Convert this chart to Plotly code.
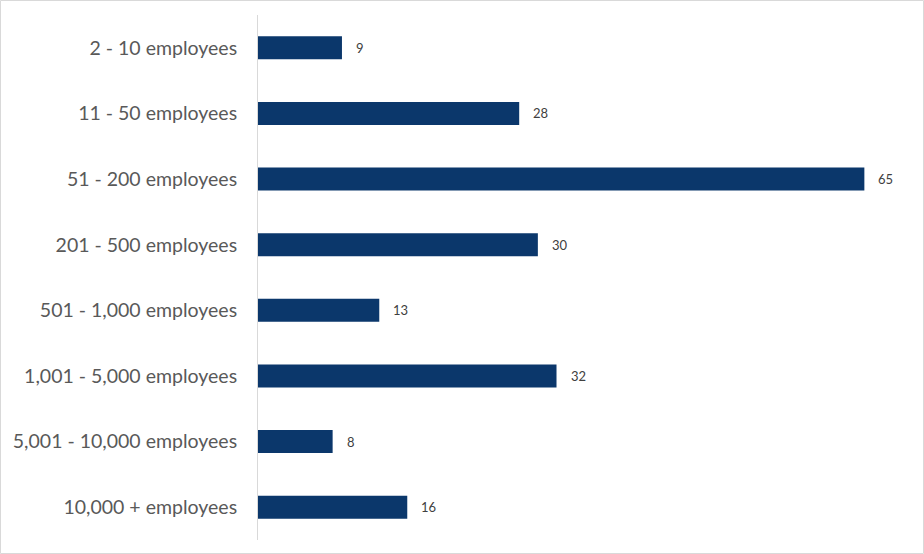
import plotly.graph_objects as go

categories = ["2 - 10 employees", "11 - 50 employees", "51 - 200 employees", "201 - 500 employees",
              "501 - 1,000 employees", "1,001 - 5,000 employees", "5,001 - 10,000 employees",
              "10,000 + employees"]
values = [9, 28, 65, 30, 13, 32, 8, 16]

W, H = 924, 554
ml, mr, mt, mb = 258, 13, 15, 14
pw, ph = W - ml - mr, H - mt - mb

fig = go.Figure()
fig.add_trace(go.Bar(
    y=categories, x=values, orientation="h",
    marker=dict(color="#0b376b", line=dict(width=0)),
    hoverinfo="skip",
))
for c, v in zip(categories, values):
    fig.add_annotation(x=v, y=c, text=str(v), showarrow=False, xanchor="left",
                       xshift=12, font=dict(family="Lato, sans-serif", size=13, color="#404040"))

fig.add_shape(type="rect", xref="paper", yref="paper",
              x0=(0.5 - ml) / pw, x1=(W - 0.5 - ml) / pw,
              y0=-(mb - 0.5) / ph, y1=(H - mb - 0.5) / ph,
              line=dict(color="#d9d9d9", width=1), fillcolor="rgba(0,0,0,0)", layer="below")

fig.update_layout(
    width=W, height=H,
    margin=dict(l=ml, r=mr, t=mt, b=mb, autoexpand=False),
    paper_bgcolor="white", plot_bgcolor="white",
    bargap=0.65, showlegend=False,
    xaxis=dict(range=[0, 70], visible=False, showgrid=False, zeroline=False, automargin=False),
    yaxis=dict(autorange="reversed", showgrid=False, zeroline=False, automargin=False,
               showline=True, linecolor="#d9d9d9", linewidth=1,
               ticks="", ticklabelstandoff=16,
               tickfont=dict(family="Lato, sans-serif", size=19.5, color="#595959")),
)
fig.write_html("out.html", config={"displayModeBar": False, "staticPlot": True},
               post_script="document.body.style.margin='0';document.body.style.overflow='hidden';")
